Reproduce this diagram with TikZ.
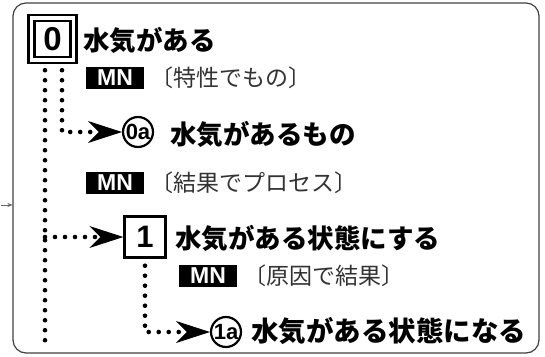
\documentclass[tikz,border=0pt]{standalone}
\usepackage{fontspec}
\setmainfont{Liberation Sans}
\newfontfamily\jp{Noto Sans CJK JP}
\usetikzlibrary{arrows.meta}
\begin{document}
\begin{tikzpicture}[x=1pt,y=-1pt,
  frame/.style={draw=black!75, line width=1.2pt, rounded corners=13pt, minimum width=526pt, minimum height=350pt, inner sep=0pt},
  numbox/.style={draw, line width=2.4pt, fill=white, minimum width=41pt, minimum height=41pt, inner sep=0pt, font=\fontsize{31}{31}\selectfont\bfseries},
  dblbox/.style={numbox, double, double distance=3.5pt, minimum width=42pt, minimum height=42pt, font=\fontsize{33}{33}\selectfont\bfseries},
  numcirc/.style={circle, draw, line width=2.2pt, fill=white, minimum size=30pt, inner sep=0pt, font=\fontsize{22}{22}\selectfont\bfseries},
  mn/.style={fill=black, text=white, minimum width=58pt, minimum height=22pt, inner sep=0pt, font=\fontsize{23}{23}\selectfont\bfseries},
  head/.style={anchor=west, inner sep=0pt, font=\jp\fontsize{26.5}{26.5}\selectfont\bfseries},
  note/.style={anchor=west, inner sep=0pt, text=black!80, font=\jp\fontsize{23}{23}\selectfont},
  dots/.style={line width=4.6pt, line cap=round, dash pattern=on 0pt off 10pt},
  arr/.style={dots, -{Stealth[length=34pt,width=22pt,inset=11pt,line width=0.8pt]}}
]
\useasboundingbox (0,0) rectangle (545,356);
\node[frame] (frame) at (276,178) {};
\coordinate (mk) at (1,205);
\draw[black!60, line width=0.6pt, -{Stealth[length=5pt,width=4pt]}] (mk) -- (mk -| frame.west);

\node[dblbox] (b0) at (52.5,39) {0};
\node[head] (h0) at (83,40) {水気がある};
\node[mn] (mn1) at (115,78) {MN};
\node[note] (n1) at (150,78) {〔特性でもの〕};
\node[numcirc] (c0a) at (138,132) {0a};
\node[head] (h0a) at (170,134) {水気があるもの};
\node[mn] (mn2) at (115,183) {MN};
\node[note] (n2) at (150,183) {〔結果でプロセス〕};
\node[numbox] (b1) at (145,237) {1};
\node[head] (h1) at (175,238) {水気がある状態にする};
\node[mn] (mn3) at (208,276) {MN};
\node[note] (n3) at (243,276) {〔原因で結果〕};
\node[numcirc] (c1a) at (226,332) {1a};
\node[head,font=\jp\fontsize{27.5}{27.5}\selectfont\bfseries] (h1a) at (251,331) {水気がある状態になる};

\coordinate (oB) at (45,349);
\coordinate (iL) at (62,132);
\draw[dots] ([yshift=-9pt]b0.south -| oB) -- (oB);
\draw[arr] ([yshift=-9pt]b0.south -| iL) |- (c0a.west);
\draw[arr] (oB |- b1.west) -- (b1.west);
\draw[arr] ([yshift=-7pt]b1.south) |- (c1a.west);
\end{tikzpicture}
\end{document}
